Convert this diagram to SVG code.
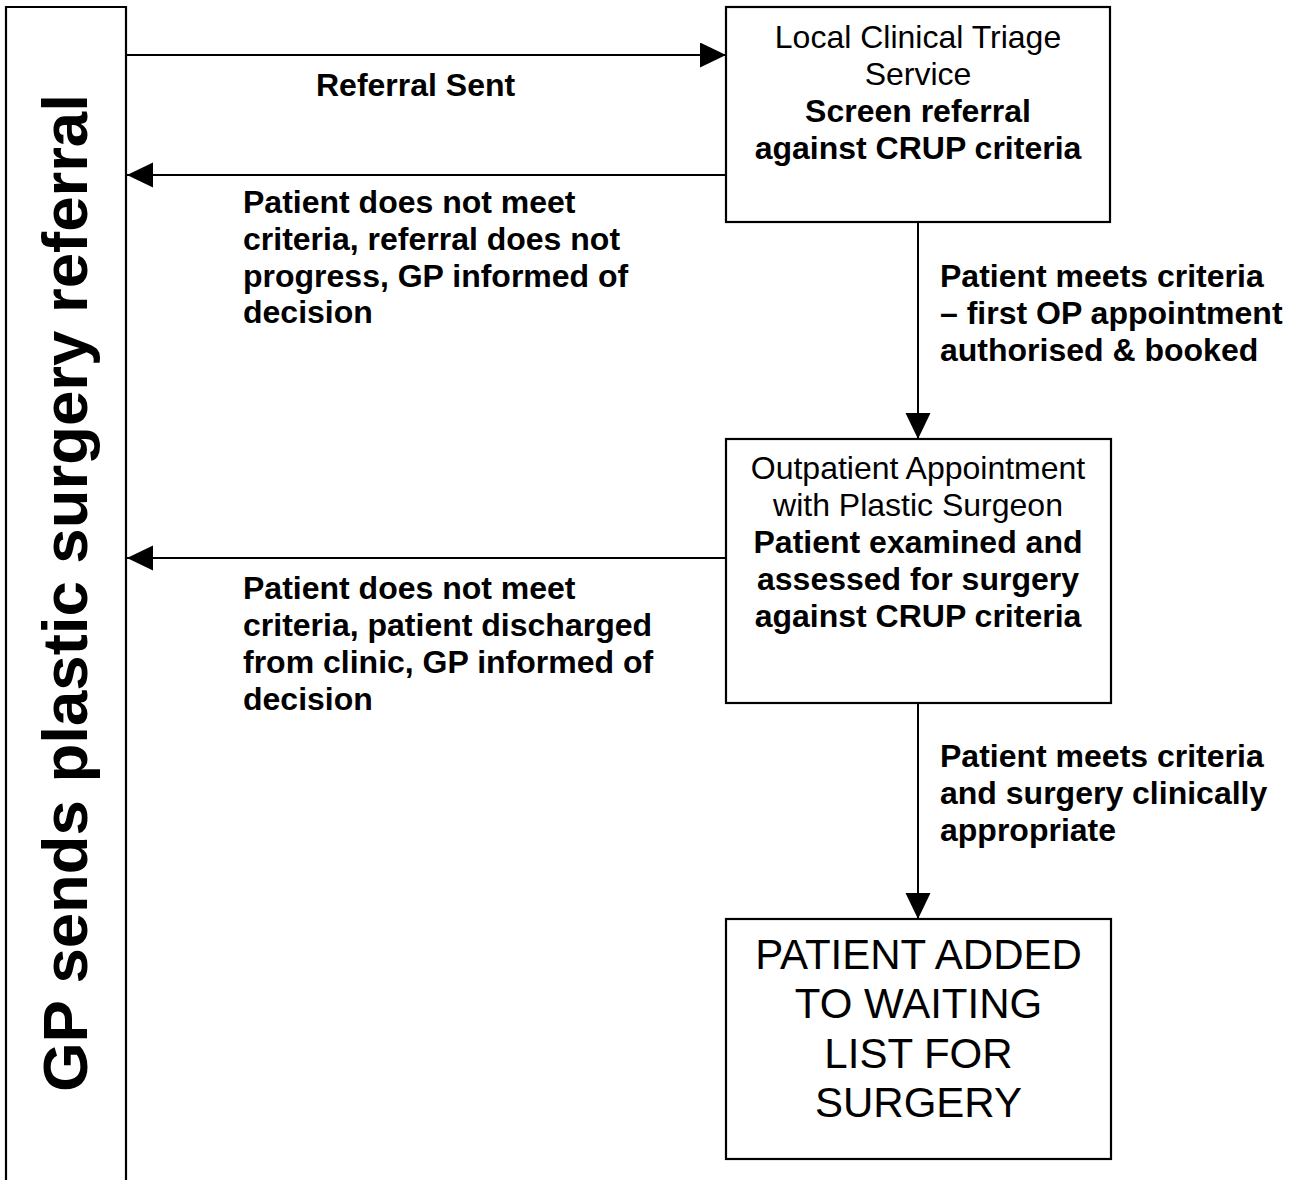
<svg xmlns="http://www.w3.org/2000/svg" width="1289" height="1180" viewBox="0 0 1289 1180">
<defs>
<style>
.box{fill:#fff;stroke:#000;stroke-width:2.2}
.conn{fill:none;stroke:#000;stroke-width:2}
.t{font-family:"Liberation Sans",Arial,sans-serif;font-size:32px;fill:#000}
.b{font-weight:bold}
.c{text-anchor:middle}
.big{font-size:42px}
</style>
<marker id="ah" markerUnits="userSpaceOnUse" markerWidth="27" markerHeight="26" refX="26" refY="12.5" orient="auto">
<path d="M0,0 L26,12.5 L0,25 Z" fill="#000"/>
</marker>
</defs>
<rect width="1289" height="1180" fill="#fff"/>
<g id="gp">
<path class="box" d="M6,1185 L6,7 L126,7 L126,1185"/>
<text class="t b c" transform="translate(87,593) rotate(-90)" style="font-size:63.5px">GP sends plastic surgery referral</text>
</g>
<g id="triage">
<rect class="box" x="726" y="7" width="384" height="215"/>
<text class="t c" x="918" y="48">Local Clinical Triage</text>
<text class="t c" x="918" y="85">Service</text>
<text class="t b c" x="918" y="122">Screen referral</text>
<text class="t b c" x="918" y="159">against CRUP criteria</text>
</g>
<g id="outpatient">
<rect class="box" x="726" y="439" width="385" height="264"/>
<text class="t c" x="918" y="479">Outpatient Appointment</text>
<text class="t c" x="918" y="516">with Plastic Surgeon</text>
<text class="t b c" x="918" y="553">Patient examined and</text>
<text class="t b c" x="918" y="590">assessed for surgery</text>
<text class="t b c" x="918" y="627">against CRUP criteria</text>
</g>
<g id="waiting">
<rect class="box" x="726" y="919" width="385" height="240"/>
<text class="t big c" x="918.5" y="969">PATIENT ADDED</text>
<text class="t big c" x="918.5" y="1018">TO WAITING</text>
<text class="t big c" x="918.5" y="1068">LIST FOR</text>
<text class="t big c" x="918.5" y="1117">SURGERY</text>
</g>
<g id="connectors">
<line class="conn" x1="126" y1="55" x2="726" y2="55" marker-end="url(#ah)"/>
<line class="conn" x1="726" y1="175" x2="127" y2="175" marker-end="url(#ah)"/>
<line class="conn" x1="918" y1="222" x2="918" y2="439" marker-end="url(#ah)"/>
<line class="conn" x1="726" y1="558" x2="127" y2="558" marker-end="url(#ah)"/>
<line class="conn" x1="918" y1="703" x2="918" y2="919" marker-end="url(#ah)"/>
<text class="t b" x="316" y="96">Referral Sent</text>
<text class="t b" x="243" y="213">Patient does not meet</text>
<text class="t b" x="243" y="250">criteria, referral does not</text>
<text class="t b" x="243" y="287">progress, GP informed of</text>
<text class="t b" x="243" y="323">decision</text>
<text class="t b" x="940" y="287">Patient meets criteria</text>
<text class="t b" x="940" y="324">– first OP appointment</text>
<text class="t b" x="940" y="361">authorised &amp; booked</text>
<text class="t b" x="243" y="599">Patient does not meet</text>
<text class="t b" x="243" y="636">criteria, patient discharged</text>
<text class="t b" x="243" y="673">from clinic, GP informed of</text>
<text class="t b" x="243" y="710">decision</text>
<text class="t b" x="940" y="767">Patient meets criteria</text>
<text class="t b" x="940" y="804">and surgery clinically</text>
<text class="t b" x="940" y="841">appropriate</text>
</g>
</svg>
